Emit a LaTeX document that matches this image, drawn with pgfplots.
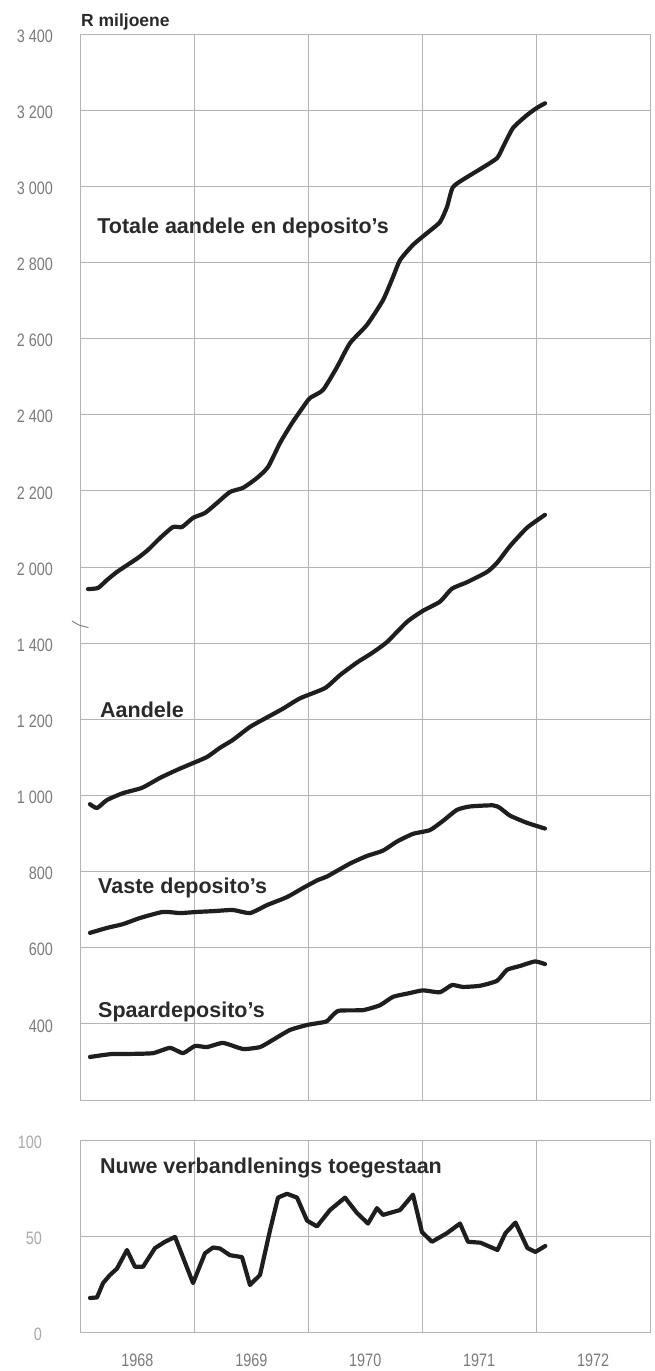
\documentclass[border=0pt]{standalone}
\usepackage{pgfplots}
\pgfplotsset{compat=1.18}
\usepackage{pgfplotstable}
\usepackage{fontspec}
\setmainfont{Liberation Sans}
\newfontfamily\tickfont[FakeStretch=0.8]{Liberation Sans}

\definecolor{ink}{HTML}{1E1E1E}
\definecolor{gridc}{HTML}{B4B4B4}
\definecolor{tickc}{HTML}{7A7A7A}
\definecolor{tickl}{HTML}{A8A8A8}
\definecolor{labc}{HTML}{2A2A2A}

\pgfplotstableread{
x y
1968.066 1942
1968.154 1945
1968.233 1966
1968.320 1987
1968.435 2010
1968.505 2024
1968.593 2045
1968.698 2076
1968.812 2105
1968.891 2105
1968.988 2129
1969.093 2142
1969.198 2168
1969.312 2197
1969.427 2208
1969.550 2234
1969.647 2263
1969.752 2326
1969.857 2378
1969.954 2420
1970.015 2444
1970.129 2465
1970.252 2525
1970.366 2588
1970.515 2636
1970.656 2701
1970.744 2762
1970.805 2806
1970.919 2846
1971.042 2877
1971.156 2906
1971.218 2946
1971.270 2998
1971.393 3024
1971.525 3048
1971.657 3074
1971.709 3103
1971.797 3153
1971.920 3187
1972.007 3206
1972.078 3218
}\totale

\pgfplotstableread{
x y
1968.083 977
1968.145 967
1968.233 988
1968.373 1006
1968.540 1020
1968.698 1046
1968.847 1067
1968.988 1085
1969.111 1101
1969.224 1125
1969.339 1146
1969.488 1180
1969.638 1205
1969.778 1228
1969.927 1255
1970.147 1282
1970.278 1316
1970.427 1349
1970.559 1374
1970.691 1403
1970.867 1456
1971.007 1485
1971.156 1509
1971.261 1543
1971.393 1560
1971.569 1587
1971.657 1611
1971.771 1655
1971.920 1703
1972.078 1737
}\aandele

\pgfplotstableread{
x y
1968.083 639
1968.233 652
1968.373 662
1968.522 678
1968.724 694
1968.874 691
1969.023 694
1969.163 696
1969.339 699
1969.488 691
1969.638 712
1969.813 733
1969.954 757
1970.085 778
1970.164 787
1970.366 821
1970.515 841
1970.656 855
1970.779 879
1970.919 899
1971.068 909
1971.182 933
1971.305 962
1971.420 971
1971.622 974
1971.683 967
1971.771 947
1971.920 928
1972.078 913
}\vaste

\pgfplotstableread{
x y
1968.083 313
1968.198 318
1968.285 321
1968.435 321
1968.637 323
1968.786 337
1968.900 323
1969.005 342
1969.111 339
1969.251 350
1969.427 334
1969.576 339
1969.690 358
1969.839 384
1969.989 397
1970.085 402
1970.164 407
1970.261 434
1970.480 436
1970.630 449
1970.744 471
1970.893 481
1971.007 488
1971.156 483
1971.261 502
1971.358 497
1971.507 500
1971.657 513
1971.745 542
1971.859 552
1971.990 564
1972.078 557
}\spaar

\pgfplotstableread{
x y
1968.083 17.7
1968.145 18
1968.198 25.5
1968.259 29.7
1968.320 33
1968.408 42.7
1968.478 34
1968.549 34
1968.654 43.7
1968.742 47
1968.830 49.5
1968.988 25.5
1969.093 41
1969.163 44
1969.224 43.5
1969.312 40
1969.418 39
1969.488 24.5
1969.576 29.7
1969.664 53
1969.734 70
1969.813 72
1969.901 70
1969.989 58
1970.076 55
1970.190 63.5
1970.322 70
1970.427 62
1970.524 56.5
1970.603 64.5
1970.656 61
1970.805 63.5
1970.919 71.5
1970.998 52
1971.086 47
1971.218 51.5
1971.332 56.5
1971.402 47
1971.512 46.5
1971.661 42.7
1971.731 51.5
1971.819 57
1971.924 43.7
1971.994 41.7
1972.081 44.8
}\nuwe

\newcommand{\labfont}{\bfseries\fontsize{21.5}{24}\selectfont}
\newcommand{\tkfont}{\tickfont\fontsize{18}{19}\selectfont}

\pgfplotsset{
  chartbase/.style={
    scale only axis, anchor=south west,
    width=569.5pt,
    xmin=1968, xmax=1973,
    xtick={1968,1969,1970,1971,1972,1973},
    xticklabels={,,,,,},
    grid=major,
    major grid style={gridc, line width=0.8pt},
    axis line style={gridc, line width=0.8pt},
    major tick length=0pt,
    minor tick length=0pt,
    clip=false,
  },
  serie/.style={ink, line width=4.2pt, line join=round, line cap=round, no markers},
}

\begin{document}
\begin{tikzpicture}[x=1pt,y=1pt]
\useasboundingbox (0,0) rectangle (655,1371);
\begin{axis}[chartbase,
  at={(80.5pt,271pt)},
  height=1066pt,
  ymin=200, ymax=3000,
  ytick={200,400,...,3000},
  yticklabels={,400,600,800,1~000,1~200,1~400,2~000,2~200,2~400,2~600,2~800,3~000,3~200,3~400},
  yticklabel style={font=\tkfont, text=tickc, xshift=-24pt, yshift=-2pt},
]
\addplot[serie, smooth, tension=0.35] table[x=x, y expr=\thisrow{y}-400] {\totale};
\addplot[serie, smooth, tension=0.35] table[x=x, y=y] {\aandele};
\addplot[serie, smooth, tension=0.35] table[x=x, y=y] {\vaste};
\addplot[serie, smooth, tension=0.3] table[x=x, y=y] {\spaar};
\node[anchor=west, inner sep=0pt, font=\labfont, text=labc] at (axis cs:1968.146,2490) {Totale aandele en deposito’s};
\node[anchor=west, inner sep=0pt, font=\labfont, text=labc] at (axis cs:1968.171,1224) {Aandele};
\node[anchor=west, inner sep=0pt, font=\labfont, text=labc] at (axis cs:1968.154,757) {Vaste deposito’s};
\node[anchor=west, inner sep=0pt, font=\labfont, text=labc] at (axis cs:1968.154,431) {Spaardeposito’s};
\node[anchor=west, inner sep=0pt, font=\bfseries\fontsize{17.5}{20}\selectfont, text=labc] at (axis cs:1968.004,3032) {R miljoene};
\draw[tickc, line width=0.9pt] (axis cs:1967.925,1458) -- (axis cs:1967.99,1447) -- (axis cs:1968.07,1441);
\end{axis}

\begin{axis}[chartbase,
  at={(80.5pt,39pt)},
  height=192pt,
  ymin=0, ymax=100,
  ytick={0,50,100},
  yticklabels={0,50,100},
  yticklabel style={font=\tkfont, text=tickl, xshift=-35pt, yshift=-2pt},
  extra x ticks={1968.5,1969.5,1970.5,1971.5,1972.5},
  extra x tick labels={1968,1969,1970,1971,1972},
  extra x tick style={grid=none, xticklabel style={font=\tkfont, text=tickc, yshift=-18pt}},
]
\addplot[serie] table[x=x, y=y] {\nuwe};
\node[anchor=west, inner sep=0pt, font=\labfont, text=labc] at (axis cs:1968.171,85.4) {Nuwe verbandlenings toegestaan};
\end{axis}
\end{tikzpicture}
\end{document}
